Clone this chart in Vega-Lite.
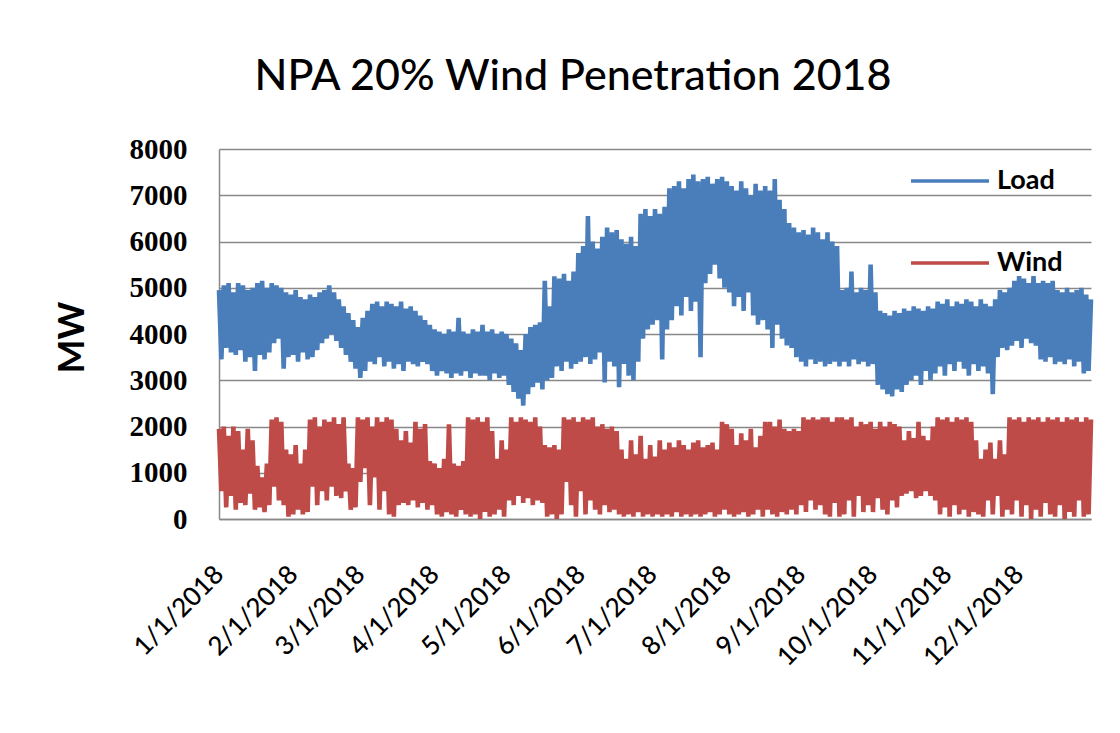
{
"$schema": "https://vega.github.io/schema/vega-lite/v6.json",
"width": 872, "height": 370,
"autosize": {"type": "none"},
"padding": {"left": 219, "top": 149, "right": 29, "bottom": 214},
"background": "white",
"title": {"text": "NPA 20% Wind Penetration 2018", "font": "Lato", "fontSize": 43, "fontWeight": 500, "color": "#000000", "anchor": "middle", "frame": "group", "dx": -82, "baseline": "alphabetic", "offset": 2},
"data": {"values": [
{"d":"2018-01-01","Load":4950,"Wind":1950},{"d":"2018-01-02","Load":3450,"Wind":600},{"d":"2018-01-03","Load":5050,"Wind":2000},{"d":"2018-01-04","Load":3700,"Wind":250},{"d":"2018-01-05","Load":5100,"Wind":1800},{"d":"2018-01-06","Load":3600,"Wind":500},{"d":"2018-01-07","Load":4900,"Wind":2000},{"d":"2018-01-08","Load":3550,"Wind":200},{"d":"2018-01-09","Load":5100,"Wind":1900},{"d":"2018-01-10","Load":3650,"Wind":350},
{"d":"2018-01-11","Load":5050,"Wind":1500},{"d":"2018-01-12","Load":3400,"Wind":300},{"d":"2018-01-13","Load":4950,"Wind":1950},{"d":"2018-01-14","Load":3500,"Wind":550},{"d":"2018-01-15","Load":5000,"Wind":1700},{"d":"2018-01-16","Load":3200,"Wind":200},{"d":"2018-01-17","Load":5100,"Wind":1150},{"d":"2018-01-18","Load":3550,"Wind":250},{"d":"2018-01-19","Load":5150,"Wind":900},{"d":"2018-01-20","Load":3450,"Wind":150},
{"d":"2018-01-21","Load":5000,"Wind":1200},{"d":"2018-01-22","Load":3600,"Wind":300},{"d":"2018-01-23","Load":5100,"Wind":2150},{"d":"2018-01-24","Load":3800,"Wind":700},{"d":"2018-01-25","Load":5050,"Wind":2200},{"d":"2018-01-26","Load":3900,"Wind":400},{"d":"2018-01-27","Load":5000,"Wind":2100},{"d":"2018-01-28","Load":3250,"Wind":300},{"d":"2018-01-29","Load":4900,"Wind":1500},{"d":"2018-01-30","Load":3500,"Wind":50},{"d":"2018-01-31","Load":4850,"Wind":1400},
{"d":"2018-02-01","Load":3550,"Wind":100},{"d":"2018-02-02","Load":4950,"Wind":1600},{"d":"2018-02-03","Load":3400,"Wind":200},{"d":"2018-02-04","Load":4800,"Wind":1200},{"d":"2018-02-05","Load":3600,"Wind":100},{"d":"2018-02-06","Load":4750,"Wind":1500},{"d":"2018-02-07","Load":3450,"Wind":150},{"d":"2018-02-08","Load":4850,"Wind":2150},{"d":"2018-02-09","Load":3500,"Wind":700},{"d":"2018-02-10","Load":4800,"Wind":2200},
{"d":"2018-02-11","Load":3650,"Wind":300},{"d":"2018-02-12","Load":4900,"Wind":2000},{"d":"2018-02-13","Load":3800,"Wind":600},{"d":"2018-02-14","Load":4950,"Wind":2150},{"d":"2018-02-15","Load":3900,"Wind":400},{"d":"2018-02-16","Load":5050,"Wind":2100},{"d":"2018-02-17","Load":4000,"Wind":700},{"d":"2018-02-18","Load":4900,"Wind":2200},{"d":"2018-02-19","Load":3850,"Wind":500},{"d":"2018-02-20","Load":4750,"Wind":2050},
{"d":"2018-02-21","Load":3700,"Wind":450},{"d":"2018-02-22","Load":4600,"Wind":2200},{"d":"2018-02-23","Load":3550,"Wind":600},{"d":"2018-02-24","Load":4450,"Wind":1200},{"d":"2018-02-25","Load":3400,"Wind":200},{"d":"2018-02-26","Load":4300,"Wind":1100},{"d":"2018-02-27","Load":3250,"Wind":250},{"d":"2018-02-28","Load":4150,"Wind":2200},
{"d":"2018-03-01","Load":3050,"Wind":800},{"d":"2018-03-02","Load":4350,"Wind":2150},{"d":"2018-03-03","Load":3200,"Wind":1100},{"d":"2018-03-04","Load":4500,"Wind":2200},{"d":"2018-03-05","Load":3400,"Wind":300},{"d":"2018-03-06","Load":4650,"Wind":2000},{"d":"2018-03-07","Load":3350,"Wind":900},{"d":"2018-03-08","Load":4700,"Wind":2200},{"d":"2018-03-09","Load":3500,"Wind":200},{"d":"2018-03-10","Load":4600,"Wind":2100},
{"d":"2018-03-11","Load":3300,"Wind":600},{"d":"2018-03-12","Load":4700,"Wind":2200},{"d":"2018-03-13","Load":3400,"Wind":100},{"d":"2018-03-14","Load":4650,"Wind":2150},{"d":"2018-03-15","Load":3250,"Wind":50},{"d":"2018-03-16","Load":4600,"Wind":1950},{"d":"2018-03-17","Load":3350,"Wind":300},{"d":"2018-03-18","Load":4700,"Wind":1700},{"d":"2018-03-19","Load":3200,"Wind":350},{"d":"2018-03-20","Load":4550,"Wind":1900},
{"d":"2018-03-21","Load":3400,"Wind":300},{"d":"2018-03-22","Load":4600,"Wind":1650},{"d":"2018-03-23","Load":3350,"Wind":400},{"d":"2018-03-24","Load":4500,"Wind":2100},{"d":"2018-03-25","Load":3300,"Wind":250},{"d":"2018-03-26","Load":4400,"Wind":1950},{"d":"2018-03-27","Load":3400,"Wind":350},{"d":"2018-03-28","Load":4300,"Wind":2050},{"d":"2018-03-29","Load":3350,"Wind":200},{"d":"2018-03-30","Load":4200,"Wind":1250},{"d":"2018-03-31","Load":3200,"Wind":300},
{"d":"2018-04-01","Load":4100,"Wind":1200},{"d":"2018-04-02","Load":3100,"Wind":100},{"d":"2018-04-03","Load":4050,"Wind":1100},{"d":"2018-04-04","Load":3200,"Wind":50},{"d":"2018-04-05","Load":4000,"Wind":1300},{"d":"2018-04-06","Load":3150,"Wind":150},{"d":"2018-04-07","Load":4100,"Wind":2050},{"d":"2018-04-08","Load":3050,"Wind":100},{"d":"2018-04-09","Load":4050,"Wind":1200},{"d":"2018-04-10","Load":3150,"Wind":50},
{"d":"2018-04-11","Load":4350,"Wind":1150},{"d":"2018-04-12","Load":3100,"Wind":200},{"d":"2018-04-13","Load":4050,"Wind":1250},{"d":"2018-04-14","Load":3200,"Wind":100},{"d":"2018-04-15","Load":4000,"Wind":2200},{"d":"2018-04-16","Load":3050,"Wind":50},{"d":"2018-04-17","Load":4100,"Wind":2150},{"d":"2018-04-18","Load":3150,"Wind":100},{"d":"2018-04-19","Load":4050,"Wind":2200},{"d":"2018-04-20","Load":3100,"Wind":0},
{"d":"2018-04-21","Load":4200,"Wind":2100},{"d":"2018-04-22","Load":3100,"Wind":150},{"d":"2018-04-23","Load":4050,"Wind":2200},{"d":"2018-04-24","Load":3000,"Wind":50},{"d":"2018-04-25","Load":4100,"Wind":1900},{"d":"2018-04-26","Load":3150,"Wind":100},{"d":"2018-04-27","Load":4000,"Wind":1300},{"d":"2018-04-28","Load":3050,"Wind":200},{"d":"2018-04-29","Load":4050,"Wind":1700},{"d":"2018-04-30","Load":3100,"Wind":50},
{"d":"2018-05-01","Load":4000,"Wind":1500},{"d":"2018-05-02","Load":2900,"Wind":400},{"d":"2018-05-03","Load":3900,"Wind":2200},{"d":"2018-05-04","Load":2750,"Wind":300},{"d":"2018-05-05","Load":3800,"Wind":2100},{"d":"2018-05-06","Load":2600,"Wind":500},{"d":"2018-05-07","Load":3650,"Wind":2200},{"d":"2018-05-08","Load":2450,"Wind":350},{"d":"2018-05-09","Load":4000,"Wind":2150},{"d":"2018-05-10","Load":2700,"Wind":450},
{"d":"2018-05-11","Load":4150,"Wind":2100},{"d":"2018-05-12","Load":2850,"Wind":300},{"d":"2018-05-13","Load":4200,"Wind":2200},{"d":"2018-05-14","Load":2950,"Wind":400},{"d":"2018-05-15","Load":4250,"Wind":2000},{"d":"2018-05-16","Load":2800,"Wind":350},{"d":"2018-05-17","Load":5150,"Wind":1600},{"d":"2018-05-18","Load":3000,"Wind":50},{"d":"2018-05-19","Load":4600,"Wind":1550},{"d":"2018-05-20","Load":3050,"Wind":100},
{"d":"2018-05-21","Load":5250,"Wind":1600},{"d":"2018-05-22","Load":3300,"Wind":0},{"d":"2018-05-23","Load":5200,"Wind":1500},{"d":"2018-05-24","Load":3200,"Wind":100},{"d":"2018-05-25","Load":5300,"Wind":2200},{"d":"2018-05-26","Load":3400,"Wind":800},{"d":"2018-05-27","Load":5150,"Wind":2150},{"d":"2018-05-28","Load":3250,"Wind":300},{"d":"2018-05-29","Load":5350,"Wind":2200},{"d":"2018-05-30","Load":3350,"Wind":50},{"d":"2018-05-31","Load":5750,"Wind":2100},
{"d":"2018-06-01","Load":3400,"Wind":600},{"d":"2018-06-02","Load":5900,"Wind":2200},{"d":"2018-06-03","Load":3500,"Wind":100},{"d":"2018-06-04","Load":6550,"Wind":2150},{"d":"2018-06-05","Load":3350,"Wind":400},{"d":"2018-06-06","Load":6000,"Wind":2200},{"d":"2018-06-07","Load":3450,"Wind":200},{"d":"2018-06-08","Load":5850,"Wind":2000},{"d":"2018-06-09","Load":3600,"Wind":100},{"d":"2018-06-10","Load":6100,"Wind":2050},
{"d":"2018-06-11","Load":2950,"Wind":300},{"d":"2018-06-12","Load":6300,"Wind":1950},{"d":"2018-06-13","Load":3400,"Wind":150},{"d":"2018-06-14","Load":6200,"Wind":2000},{"d":"2018-06-15","Load":3300,"Wind":200},{"d":"2018-06-16","Load":6250,"Wind":1900},{"d":"2018-06-17","Load":2850,"Wind":100},{"d":"2018-06-18","Load":6050,"Wind":1500},{"d":"2018-06-19","Load":3350,"Wind":50},{"d":"2018-06-20","Load":5950,"Wind":1300},
{"d":"2018-06-21","Load":3100,"Wind":100},{"d":"2018-06-22","Load":6100,"Wind":1700},{"d":"2018-06-23","Load":3000,"Wind":50},{"d":"2018-06-24","Load":5900,"Wind":1400},{"d":"2018-06-25","Load":3400,"Wind":150},{"d":"2018-06-26","Load":6600,"Wind":1800},{"d":"2018-06-27","Load":3900,"Wind":50},{"d":"2018-06-28","Load":6700,"Wind":1300},{"d":"2018-06-29","Load":4100,"Wind":100},{"d":"2018-06-30","Load":6550,"Wind":1600},
{"d":"2018-07-01","Load":4200,"Wind":50},{"d":"2018-07-02","Load":6700,"Wind":1350},{"d":"2018-07-03","Load":4300,"Wind":100},{"d":"2018-07-04","Load":6600,"Wind":1700},{"d":"2018-07-05","Load":3450,"Wind":50},{"d":"2018-07-06","Load":6750,"Wind":1500},{"d":"2018-07-07","Load":4100,"Wind":100},{"d":"2018-07-08","Load":7150,"Wind":1650},{"d":"2018-07-09","Load":4300,"Wind":50},{"d":"2018-07-10","Load":7200,"Wind":1550},
{"d":"2018-07-11","Load":4600,"Wind":150},{"d":"2018-07-12","Load":7300,"Wind":1700},{"d":"2018-07-13","Load":4400,"Wind":50},{"d":"2018-07-14","Load":7150,"Wind":1600},{"d":"2018-07-15","Load":4800,"Wind":100},{"d":"2018-07-16","Load":7350,"Wind":1500},{"d":"2018-07-17","Load":4500,"Wind":50},{"d":"2018-07-18","Load":7450,"Wind":1650},{"d":"2018-07-19","Load":4700,"Wind":100},{"d":"2018-07-20","Load":7300,"Wind":1700},
{"d":"2018-07-21","Load":3500,"Wind":50},{"d":"2018-07-22","Load":7350,"Wind":1550},{"d":"2018-07-23","Load":5100,"Wind":100},{"d":"2018-07-24","Load":7400,"Wind":1600},{"d":"2018-07-25","Load":5300,"Wind":150},{"d":"2018-07-26","Load":7250,"Wind":1650},{"d":"2018-07-27","Load":5500,"Wind":50},{"d":"2018-07-28","Load":7350,"Wind":1500},{"d":"2018-07-29","Load":5200,"Wind":100},{"d":"2018-07-30","Load":7400,"Wind":2100},{"d":"2018-07-31","Load":5000,"Wind":200},
{"d":"2018-08-01","Load":7300,"Wind":2050},{"d":"2018-08-02","Load":4900,"Wind":100},{"d":"2018-08-03","Load":7200,"Wind":1950},{"d":"2018-08-04","Load":4600,"Wind":50},{"d":"2018-08-05","Load":7100,"Wind":1600},{"d":"2018-08-06","Load":4800,"Wind":100},{"d":"2018-08-07","Load":7300,"Wind":1850},{"d":"2018-08-08","Load":4500,"Wind":150},{"d":"2018-08-09","Load":7150,"Wind":1700},{"d":"2018-08-10","Load":4900,"Wind":50},
{"d":"2018-08-11","Load":7000,"Wind":1950},{"d":"2018-08-12","Load":4400,"Wind":100},{"d":"2018-08-13","Load":7250,"Wind":1550},{"d":"2018-08-14","Load":4200,"Wind":200},{"d":"2018-08-15","Load":7100,"Wind":1800},{"d":"2018-08-16","Load":4300,"Wind":50},{"d":"2018-08-17","Load":7200,"Wind":2100},{"d":"2018-08-18","Load":4100,"Wind":200},{"d":"2018-08-19","Load":7100,"Wind":2100},{"d":"2018-08-20","Load":3700,"Wind":100},
{"d":"2018-08-21","Load":7350,"Wind":2000},{"d":"2018-08-22","Load":4200,"Wind":50},{"d":"2018-08-23","Load":6900,"Wind":2150},{"d":"2018-08-24","Load":3900,"Wind":150},{"d":"2018-08-25","Load":6700,"Wind":1950},{"d":"2018-08-26","Load":3750,"Wind":100},{"d":"2018-08-27","Load":6400,"Wind":1900},{"d":"2018-08-28","Load":3700,"Wind":200},{"d":"2018-08-29","Load":6300,"Wind":1950},{"d":"2018-08-30","Load":3500,"Wind":100},{"d":"2018-08-31","Load":6200,"Wind":1900},
{"d":"2018-09-01","Load":3400,"Wind":300},{"d":"2018-09-02","Load":6250,"Wind":2200},{"d":"2018-09-03","Load":3300,"Wind":150},{"d":"2018-09-04","Load":6150,"Wind":2150},{"d":"2018-09-05","Load":3450,"Wind":400},{"d":"2018-09-06","Load":6300,"Wind":2200},{"d":"2018-09-07","Load":3350,"Wind":200},{"d":"2018-09-08","Load":6200,"Wind":2150},{"d":"2018-09-09","Load":3400,"Wind":300},{"d":"2018-09-10","Load":6050,"Wind":2200},
{"d":"2018-09-11","Load":3300,"Wind":100},{"d":"2018-09-12","Load":6200,"Wind":2200},{"d":"2018-09-13","Load":3350,"Wind":50},{"d":"2018-09-14","Load":6000,"Wind":2100},{"d":"2018-09-15","Load":3400,"Wind":350},{"d":"2018-09-16","Load":5900,"Wind":2200},{"d":"2018-09-17","Load":3300,"Wind":50},{"d":"2018-09-18","Load":4950,"Wind":2200},{"d":"2018-09-19","Load":3400,"Wind":100},{"d":"2018-09-20","Load":5000,"Wind":2150},
{"d":"2018-09-21","Load":3300,"Wind":400},{"d":"2018-09-22","Load":5350,"Wind":2200},{"d":"2018-09-23","Load":3450,"Wind":50},{"d":"2018-09-24","Load":4900,"Wind":2000},{"d":"2018-09-25","Load":3350,"Wind":500},{"d":"2018-09-26","Load":5000,"Wind":2100},{"d":"2018-09-27","Load":3400,"Wind":150},{"d":"2018-09-28","Load":4950,"Wind":2050},{"d":"2018-09-29","Load":3300,"Wind":300},{"d":"2018-09-30","Load":5500,"Wind":2100},
{"d":"2018-10-01","Load":3350,"Wind":150},{"d":"2018-10-02","Load":4900,"Wind":1950},{"d":"2018-10-03","Load":2900,"Wind":450},{"d":"2018-10-04","Load":4500,"Wind":2100},{"d":"2018-10-05","Load":2800,"Wind":200},{"d":"2018-10-06","Load":4450,"Wind":2000},{"d":"2018-10-07","Load":2700,"Wind":100},{"d":"2018-10-08","Load":4400,"Wind":2100},{"d":"2018-10-09","Load":2650,"Wind":400},{"d":"2018-10-10","Load":4500,"Wind":2050},
{"d":"2018-10-11","Load":2800,"Wind":250},{"d":"2018-10-12","Load":4450,"Wind":2000},{"d":"2018-10-13","Load":2750,"Wind":500},{"d":"2018-10-14","Load":4550,"Wind":1700},{"d":"2018-10-15","Load":2900,"Wind":550},{"d":"2018-10-16","Load":4500,"Wind":1900},{"d":"2018-10-17","Load":3000,"Wind":600},{"d":"2018-10-18","Load":4600,"Wind":1750},{"d":"2018-10-19","Load":3100,"Wind":450},{"d":"2018-10-20","Load":4550,"Wind":2100},
{"d":"2018-10-21","Load":2900,"Wind":500},{"d":"2018-10-22","Load":4500,"Wind":1800},{"d":"2018-10-23","Load":3200,"Wind":600},{"d":"2018-10-24","Load":4600,"Wind":1700},{"d":"2018-10-25","Load":3000,"Wind":500},{"d":"2018-10-26","Load":4550,"Wind":2000},{"d":"2018-10-27","Load":3150,"Wind":400},{"d":"2018-10-28","Load":4700,"Wind":2200},{"d":"2018-10-29","Load":3300,"Wind":100},{"d":"2018-10-30","Load":4650,"Wind":2150},{"d":"2018-10-31","Load":3100,"Wind":250},
{"d":"2018-11-01","Load":4750,"Wind":2200},{"d":"2018-11-02","Load":3350,"Wind":50},{"d":"2018-11-03","Load":4600,"Wind":2100},{"d":"2018-11-04","Load":3200,"Wind":300},{"d":"2018-11-05","Load":4700,"Wind":2200},{"d":"2018-11-06","Load":3400,"Wind":100},{"d":"2018-11-07","Load":4650,"Wind":2150},{"d":"2018-11-08","Load":3250,"Wind":200},{"d":"2018-11-09","Load":4750,"Wind":2200},{"d":"2018-11-10","Load":3100,"Wind":50},
{"d":"2018-11-11","Load":4700,"Wind":2100},{"d":"2018-11-12","Load":3350,"Wind":150},{"d":"2018-11-13","Load":4600,"Wind":1700},{"d":"2018-11-14","Load":3200,"Wind":100},{"d":"2018-11-15","Load":4750,"Wind":1300},{"d":"2018-11-16","Load":3300,"Wind":50},{"d":"2018-11-17","Load":4650,"Wind":1500},{"d":"2018-11-18","Load":3150,"Wind":400},{"d":"2018-11-19","Load":4600,"Wind":1650},{"d":"2018-11-20","Load":2700,"Wind":100},
{"d":"2018-11-21","Load":4750,"Wind":1300},{"d":"2018-11-22","Load":3500,"Wind":500},{"d":"2018-11-23","Load":4950,"Wind":1700},{"d":"2018-11-24","Load":3700,"Wind":50},{"d":"2018-11-25","Load":4900,"Wind":1400},{"d":"2018-11-26","Load":3650,"Wind":200},{"d":"2018-11-27","Load":5000,"Wind":2200},{"d":"2018-11-28","Load":3750,"Wind":100},{"d":"2018-11-29","Load":5150,"Wind":2150},{"d":"2018-11-30","Load":3850,"Wind":400},
{"d":"2018-12-01","Load":5250,"Wind":2200},{"d":"2018-12-02","Load":3700,"Wind":50},{"d":"2018-12-03","Load":5200,"Wind":2100},{"d":"2018-12-04","Load":3900,"Wind":300},{"d":"2018-12-05","Load":5100,"Wind":2200},{"d":"2018-12-06","Load":3800,"Wind":0},{"d":"2018-12-07","Load":5250,"Wind":2150},{"d":"2018-12-08","Load":3750,"Wind":200},{"d":"2018-12-09","Load":5100,"Wind":2200},{"d":"2018-12-10","Load":3450,"Wind":50},
{"d":"2018-12-11","Load":5150,"Wind":2100},{"d":"2018-12-12","Load":3400,"Wind":350},{"d":"2018-12-13","Load":5100,"Wind":2200},{"d":"2018-12-14","Load":3500,"Wind":100},{"d":"2018-12-15","Load":5150,"Wind":2150},{"d":"2018-12-16","Load":3350,"Wind":50},{"d":"2018-12-17","Load":4950,"Wind":2200},{"d":"2018-12-18","Load":3400,"Wind":300},{"d":"2018-12-19","Load":4900,"Wind":2100},{"d":"2018-12-20","Load":3350,"Wind":0},
{"d":"2018-12-21","Load":5000,"Wind":2200},{"d":"2018-12-22","Load":3450,"Wind":150},{"d":"2018-12-23","Load":4900,"Wind":2150},{"d":"2018-12-24","Load":3300,"Wind":50},{"d":"2018-12-25","Load":4950,"Wind":2200},{"d":"2018-12-26","Load":3400,"Wind":400},{"d":"2018-12-27","Load":5000,"Wind":2100},{"d":"2018-12-28","Load":3150,"Wind":50},{"d":"2018-12-29","Load":4850,"Wind":2200},{"d":"2018-12-30","Load":3200,"Wind":100},{"d":"2018-12-31","Load":4750,"Wind":2150}
]},
"transform": [{"fold": ["Load", "Wind"], "as": ["series", "MW"]}],
"mark": {"type": "line", "strokeWidth": 4.6, "strokeJoin": "miter", "strokeMiterLimit": 1.2},
"encoding": {
  "x": {"field": "d", "type": "temporal",
    "scale": {"type": "utc", "domain": [{"year": 2018, "month": 1, "date": 1, "utc": true}, {"year": 2018, "month": 12, "date": 31, "utc": true}]},
    "axis": {"title": null, "ticks": false, "grid": false, "domainColor": "#888888", "domainWidth": 1.5,
      "values": [{"year":2018,"month":1,"date":1,"utc":true},{"year":2018,"month":2,"date":1,"utc":true},{"year":2018,"month":3,"date":1,"utc":true},{"year":2018,"month":4,"date":1,"utc":true},{"year":2018,"month":5,"date":1,"utc":true},{"year":2018,"month":6,"date":1,"utc":true},{"year":2018,"month":7,"date":1,"utc":true},{"year":2018,"month":8,"date":1,"utc":true},{"year":2018,"month":9,"date":1,"utc":true},{"year":2018,"month":10,"date":1,"utc":true},{"year":2018,"month":11,"date":1,"utc":true},{"year":2018,"month":12,"date":1,"utc":true}],
      "labelExpr": "utcFormat(datum.value, '%-m/%-d/%Y')",
      "labelAngle": -45, "labelAlign": "right", "labelBaseline": "middle", "labelPadding": 51,
      "labelFont": "Lato", "labelFontSize": 26, "labelFontWeight": 500, "labelColor": "#000000", "labelOverlap": false, "labelBound": false, "labelFlush": false}},
  "y": {"field": "MW", "type": "quantitative",
    "scale": {"domain": [0, 8000], "nice": false},
    "axis": {"title": "MW", "values": [0,1000,2000,3000,4000,5000,6000,7000,8000], "format": "d",
      "ticks": false, "gridColor": "#888888", "gridWidth": 1.5, "domainColor": "#888888", "domainWidth": 1.5,
      "labelFont": "Liberation Serif", "labelFontSize": 29, "labelFontWeight": "bold", "labelColor": "#000000", "labelPadding": 32,
      "titleFont": "Lato", "titleFontSize": 36, "titleFontWeight": "bold", "titleColor": "#000000", "titleAngle": -90,
      "titleX": -147, "titleY": 188, "titleAlign": "center", "titleBaseline": "middle"}},
  "color": {"field": "series", "type": "nominal",
    "scale": {"domain": ["Load", "Wind"], "range": ["#4A7EBB", "#BE4B48"]},
    "legend": {"title": null, "orient": "none", "legendX": 690, "legendY": -9, "padding": 0,
      "symbolType": "stroke", "symbolSize": 6084, "symbolStrokeWidth": 3.5,
      "labelFont": "Lato", "labelFontSize": 27, "labelFontWeight": "bold", "labelColor": "#000000", "labelOffset": 6, "rowPadding": 28}}
},
"config": {"view": {"stroke": null}}
}
